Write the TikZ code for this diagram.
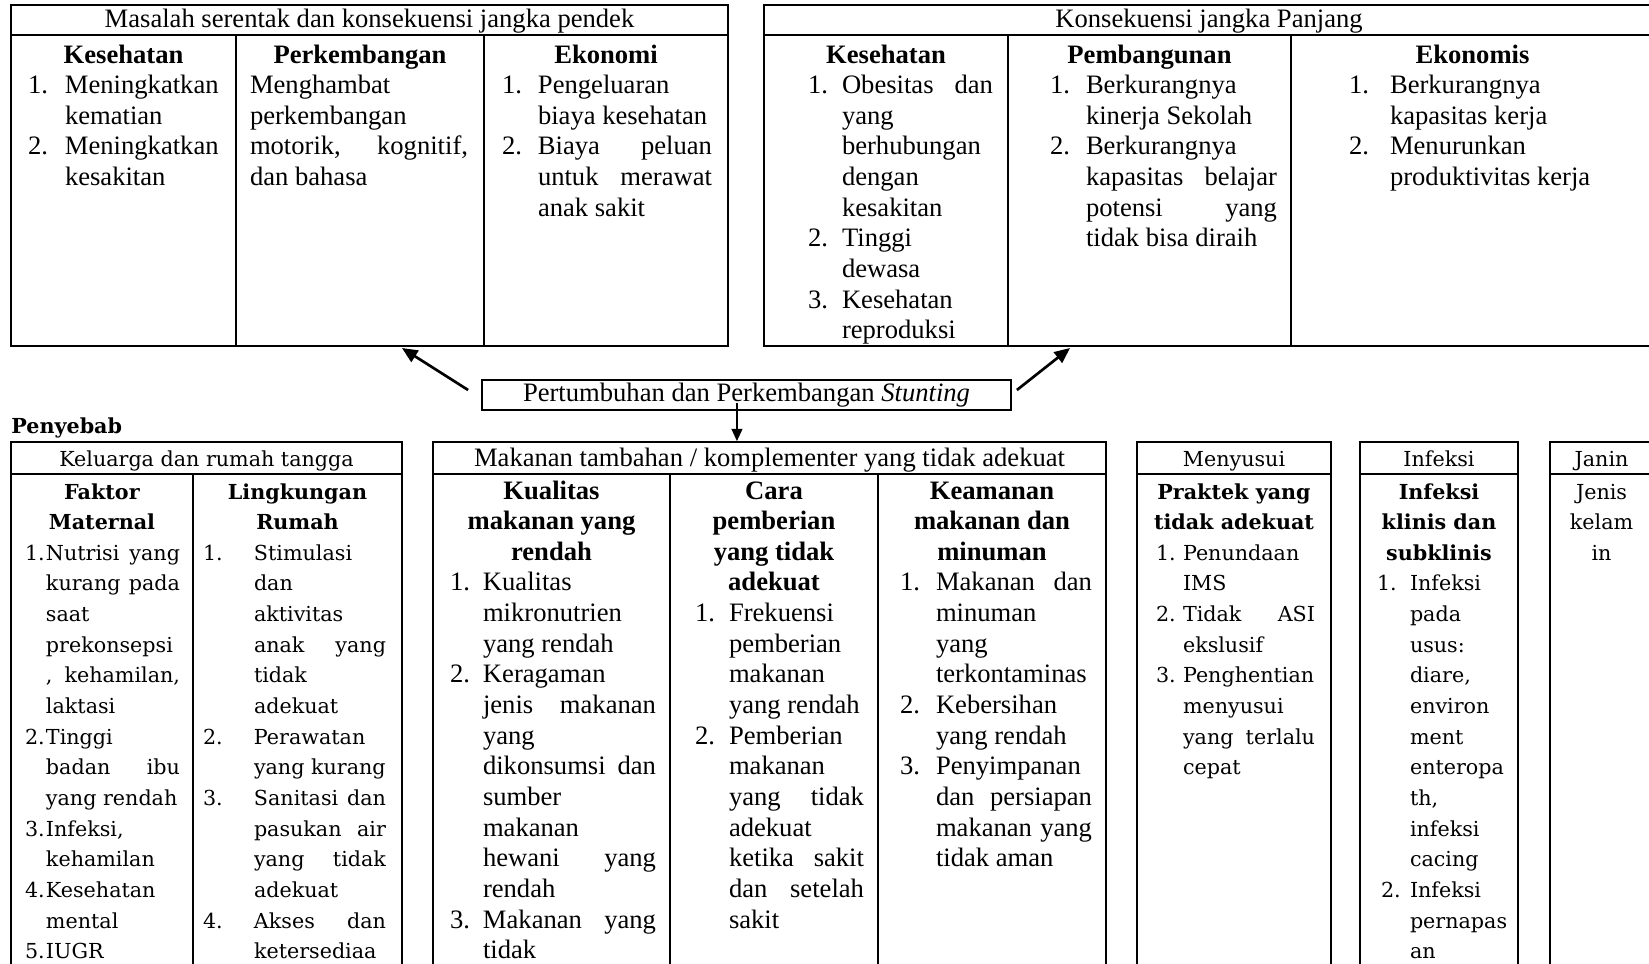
\documentclass[tikz,border=0pt]{standalone}
\usepackage{fontspec}
\setmainfont{Liberation Serif}
\newfontfamily\cenfont{DejaVu Serif}
\usepackage{array}
\usepackage{tikz}
\usetikzlibrary{arrows.meta}

\newcommand{\px}[1]{\dimexpr#1pt*45/100\relax}
\newcommand{\tms}{\fontsize{11.97pt}{13.79pt}\selectfont}
\newcommand{\cen}{\cenfont\fontsize{9.3pt}{13.79pt}\selectfont}
\newlength{\numx}\newlength{\txtx}\newlength{\rgtx}
\newcommand{\setcol}[3]{\setlength{\numx}{\px{#1}}\setlength{\txtx}{\px{#2}}\setlength{\rgtx}{\px{#3}}}
\newcommand{\hd}[1]{\par\makebox[\hsize]{\textbf{#1}}}
\newcommand{\ct}[1]{\par\makebox[\hsize]{#1}}
\newcommand{\nitem}[2]{\par\makebox[\hsize][l]{\makebox[\txtx][l]{\hspace*{\numx}#1}#2}}
\newcommand{\njust}[2]{\par\makebox[\hsize][l]{\makebox[\txtx][l]{\hspace*{\numx}#1}\makebox[\dimexpr\rgtx-\txtx\relax][s]{#2}}}
\newcommand{\tx}[1]{\par\makebox[\hsize][l]{\hspace*{\txtx}#1}}
\newcommand{\tjust}[1]{\par\makebox[\hsize][l]{\hspace*{\txtx}\makebox[\dimexpr\rgtx-\txtx\relax][s]{#1}}}
\newcommand{\headstrut}[2]{\rule[-\px{#2}]{0pt}{\dimexpr\px{#1}+\px{#2}\relax}}

\setlength{\tabcolsep}{0pt}
\setlength{\arrayrulewidth}{0.9pt}
\renewcommand{\arraystretch}{0}

\tikzset{
  tabel/.style={anchor=north west, inner sep=0pt, outer sep=0pt},
  panahtebal/.style={-{Triangle[length=7pt,width=6pt]}, line width=1.2pt},
  panah/.style={-{Triangle[length=5.5pt,width=5pt]}, line width=0.5pt}
}

\begin{document}
\begin{tikzpicture}[x=0.45pt,y=-0.45pt]
\path[use as bounding box] (0,0) rectangle (1649,963);
\clip (0,0) rectangle (1649,963);

\node[tabel] (pendek) at (10,4) {\tms
\begin{tabular}{|p{\px{223}}|p{\px{246}}|p{\px{242}}|>{\headstrut{27}{282}}p{0pt}}
\hline
\multicolumn{3}{|c|}{\headstrut{21}{7}Masalah serentak dan konsekuensi jangka pendek}\\
\hline
\setcol{16}{53}{207}\hd{Kesehatan}
\nitem{1.}{Meningkatkan}
\tx{kematian}
\nitem{2.}{Meningkatkan}
\tx{kesakitan}
&\setcol{0}{13}{231}\hd{Perkembangan}
\tx{Menghambat}
\tx{perkembangan}
\tjust{motorik, kognitif,}
\tx{dan bahasa}
&\setcol{17}{53}{227}\hd{Ekonomi}
\nitem{1.}{Pengeluaran}
\tx{biaya kesehatan}
\njust{2.}{Biaya peluan}
\tjust{untuk merawat}
\tx{anak sakit}
&\\
\hline
\end{tabular}};

\node[tabel] (panjang) at (763,4) {\tms
\begin{tabular}{|p{\px{242}}|p{\px{281}}|p{\px{361}}|>{\headstrut{27}{282}}p{0pt}}
\hline
\multicolumn{3}{|c|}{\headstrut{21}{7}Konsekuensi jangka Panjang}\\
\hline
\setcol{43}{77}{228}\hd{Kesehatan}
\njust{1.}{Obesitas dan}
\tx{yang}
\tx{berhubungan}
\tx{dengan}
\tx{kesakitan}
\nitem{2.}{Tinggi}
\tx{dewasa}
\nitem{3.}{Kesehatan}
\tx{reproduksi}
&\setcol{41}{77}{268}\hd{Pembangunan}
\nitem{1.}{Berkurangnya}
\tx{kinerja Sekolah}
\nitem{2.}{Berkurangnya}
\tjust{kapasitas belajar}
\tjust{potensi yang}
\tx{tidak bisa diraih}
&\setcol{57}{98}{340}\hd{Ekonomis}
\nitem{1.}{Berkurangnya}
\tx{kapasitas kerja}
\nitem{2.}{Menurunkan}
\tx{produktivitas kerja}
&\\
\hline
\end{tabular}};

\node[draw, line width=0.8pt, minimum width=\px{529}, minimum height=\px{30}, inner sep=0pt, font=\tms] (stunting) at (746.5,395) {Pertumbuhan dan Perkembangan \textit{Stunting}};

\node[anchor=base west, inner sep=0pt, font=\cen\bfseries] (penyebab) at (11,433) {Penyebab};

\node[tabel] (keluarga) at (10,441) {\cen
\begin{tabular}{|p{\px{180}}|p{\px{207}}|>{\headstrut{24.5}{520}}p{0pt}}
\hline
\multicolumn{2}{|c|}{\headstrut{23.5}{6}Keluarga dan rumah tangga}\\
\hline
\setcol{13}{34}{168}\hd{Faktor}
\hd{Maternal}
\njust{1.}{Nutrisi yang}
\tjust{kurang pada}
\tx{saat}
\tx{prekonsepsi}
\tjust{, kehamilan,}
\tx{laktasi}
\nitem{2.}{Tinggi}
\tjust{badan ibu}
\tx{yang rendah}
\nitem{3.}{Infeksi,}
\tx{kehamilan}
\nitem{4.}{Kesehatan}
\tx{mental}
\nitem{5.}{IUGR}
&\setcol{9}{60}{192}\hd{Lingkungan}
\hd{Rumah}
\nitem{1.}{Stimulasi}
\tx{dan}
\tx{aktivitas}
\tjust{anak yang}
\tx{tidak}
\tx{adekuat}
\nitem{2.}{Perawatan}
\tx{yang kurang}
\njust{3.}{Sanitasi dan}
\tjust{pasukan air}
\tjust{yang tidak}
\tx{adekuat}
\njust{4.}{Akses dan}
\tx{ketersediaa}
&\\
\hline
\end{tabular}};

\node[tabel] (makanan) at (432,441) {\tms
\begin{tabular}{|p{\px{235}}|p{\px{206}}|p{\px{226}}|>{\headstrut{24.5}{520}}p{0pt}}
\hline
\multicolumn{3}{|c|}{\headstrut{23.5}{6}Makanan tambahan / komplementer yang tidak adekuat}\\
\hline
\setcol{16}{49}{222}\hd{Kualitas}
\hd{makanan yang}
\hd{rendah}
\nitem{1.}{Kualitas}
\tx{mikronutrien}
\tx{yang rendah}
\nitem{2.}{Keragaman}
\tjust{jenis makanan}
\tx{yang}
\tjust{dikonsumsi dan}
\tx{sumber}
\tx{makanan}
\tjust{hewani yang}
\tx{rendah}
\njust{3.}{Makanan yang}
\tx{tidak}
&\setcol{24}{58}{193}\hd{Cara}
\hd{pemberian}
\hd{yang tidak}
\hd{adekuat}
\nitem{1.}{Frekuensi}
\tx{pemberian}
\tx{makanan}
\tx{yang rendah}
\nitem{2.}{Pemberian}
\tx{makanan}
\tjust{yang tidak}
\tx{adekuat}
\tjust{ketika sakit}
\tjust{dan setelah}
\tx{sakit}
&\setcol{21}{57}{213}\hd{Keamanan}
\hd{makanan dan}
\hd{minuman}
\njust{1.}{Makanan dan}
\tx{minuman}
\tx{yang}
\tx{terkontaminas}
\nitem{2.}{Kebersihan}
\tx{yang rendah}
\nitem{3.}{Penyimpanan}
\tjust{dan persiapan}
\tjust{makanan yang}
\tx{tidak aman}
&\\
\hline
\end{tabular}};

\node[tabel] (menyusui) at (1136,441) {\cen
\begin{tabular}{|p{\px{192}}|>{\headstrut{24.5}{520}}p{0pt}}
\hline
\multicolumn{1}{|c|}{\headstrut{23.5}{6}Menyusui}\\
\hline
\setcol{18}{45}{177}\hd{Praktek yang}
\hd{tidak adekuat}
\nitem{1.}{Penundaan}
\tx{IMS}
\njust{2.}{Tidak ASI}
\tx{ekslusif}
\nitem{3.}{Penghentian}
\tx{menyusui}
\tjust{yang terlalu}
\tx{cepat}
&\\
\hline
\end{tabular}};

\node[tabel] (infeksi) at (1359,441) {\cen
\begin{tabular}{|p{\px{156}}|>{\headstrut{24.5}{520}}p{0pt}}
\hline
\multicolumn{1}{|c|}{\headstrut{23.5}{6}Infeksi}\\
\hline
\setcol{16}{49}{150}\hd{Infeksi}
\hd{klinis dan}
\hd{subklinis}
\nitem{1.}{Infeksi}
\tx{pada}
\tx{usus:}
\tx{diare,}
\tx{environ}
\tx{ment}
\tx{enteropa}
\tx{th,}
\tx{infeksi}
\tx{cacing}
\setlength{\numx}{\px{20}}\nitem{2.}{Infeksi}
\tx{pernapas}
\tx{an}
&\\
\hline
\end{tabular}};

\node[tabel] (janin) at (1549,441) {\cen
\begin{tabular}{|p{\px{101}}|>{\headstrut{24.5}{520}}p{0pt}}
\hline
\multicolumn{1}{|c|}{\headstrut{23.5}{6}Janin}\\
\hline
\ct{Jenis}
\ct{kelam}
\ct{in}
&\\
\hline
\end{tabular}};

\draw[panahtebal] ([xshift=-5.85pt,yshift=2.25pt]stunting.west) -- ([xshift=14.6pt,yshift=-0.45pt]pendek.south);
\draw[panahtebal] ([xshift=2.25pt,yshift=2.25pt]stunting.east) -- ([xshift=-62.55pt,yshift=-0.45pt]panjang.south);
\coordinate (turun) at ([xshift=-4.3pt,yshift=3.6pt]stunting.south);
\draw[panah] (turun) -- (turun |- makanan.north);
\end{tikzpicture}
\end{document}
